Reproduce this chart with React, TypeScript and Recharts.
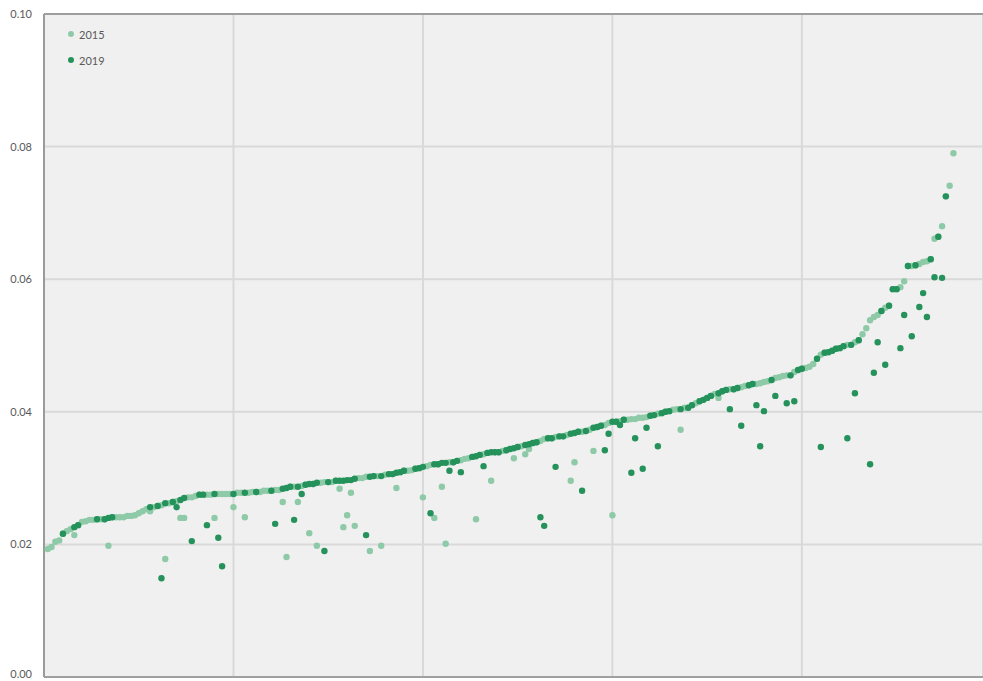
import React from 'react';
import { ScatterChart, Scatter, XAxis, YAxis, CartesianGrid, Legend, ReferenceLine } from 'recharts';

const seriesNames = ['2015', '2019'];
const seriesColors = ['#8ecaa7', '#24925a'];
const xTicks = [0, 50, 100, 150, 200];
const yTicks = [0, 0.02, 0.04, 0.06, 0.08, 0.1];

// sorted envelope values, index 1..240
const curve = [
  0.0193, 0.0196, 0.0204, 0.0206, 0.0216, 0.0220, 0.0223, 0.0226, 0.0229, 0.0234,
  0.0235, 0.0237, 0.0237, 0.0238, 0.0238, 0.0238, 0.0240, 0.0241, 0.0241, 0.0241,
  0.0241, 0.0243, 0.0243, 0.0244, 0.0247, 0.0250, 0.0253, 0.0256, 0.0256, 0.0258,
  0.0259, 0.0262, 0.0262, 0.0264, 0.0265, 0.0267, 0.0270, 0.0271, 0.0271, 0.0273,
  0.0275, 0.0275, 0.0275, 0.0275, 0.0276, 0.0276, 0.0276, 0.0276, 0.0276, 0.0276,
  0.0278, 0.0278, 0.0278, 0.0278, 0.0279, 0.0279, 0.0279, 0.0281, 0.0281, 0.0281,
  0.0282, 0.0282, 0.0284, 0.0285, 0.0287, 0.0287, 0.0287, 0.0288, 0.0290, 0.0291,
  0.0291, 0.0293, 0.0293, 0.0294, 0.0294, 0.0294, 0.0296, 0.0296, 0.0296, 0.0297,
  0.0297, 0.0299, 0.0300, 0.0300, 0.0302, 0.0302, 0.0303, 0.0303, 0.0303, 0.0305,
  0.0306, 0.0306, 0.0308, 0.0309, 0.0311, 0.0311, 0.0312, 0.0314, 0.0315, 0.0317,
  0.0318, 0.0320, 0.0321, 0.0321, 0.0323, 0.0323, 0.0324, 0.0324, 0.0326, 0.0327,
  0.0329, 0.0330, 0.0332, 0.0333, 0.0335, 0.0336, 0.0338, 0.0339, 0.0339, 0.0339,
  0.0341, 0.0342, 0.0344, 0.0345, 0.0347, 0.0348, 0.0350, 0.0351, 0.0353, 0.0354,
  0.0356, 0.0359, 0.0360, 0.0360, 0.0362, 0.0363, 0.0363, 0.0365, 0.0367, 0.0368,
  0.0370, 0.0370, 0.0371, 0.0373, 0.0376, 0.0377, 0.0379, 0.0380, 0.0383, 0.0385,
  0.0385, 0.0386, 0.0388, 0.0388, 0.0389, 0.0389, 0.0391, 0.0391, 0.0392, 0.0394,
  0.0395, 0.0397, 0.0398, 0.0400, 0.0401, 0.0403, 0.0404, 0.0404, 0.0406, 0.0406,
  0.0410, 0.0413, 0.0416, 0.0418, 0.0421, 0.0424, 0.0427, 0.0428, 0.0431, 0.0433,
  0.0434, 0.0434, 0.0436, 0.0437, 0.0439, 0.0440, 0.0442, 0.0442, 0.0443, 0.0445,
  0.0446, 0.0448, 0.0451, 0.0452, 0.0454, 0.0455, 0.0455, 0.0460, 0.0463, 0.0465,
  0.0466, 0.0468, 0.0472, 0.0480, 0.0486, 0.0489, 0.0490, 0.0492, 0.0495, 0.0496,
  0.0499, 0.0501, 0.0501, 0.0505, 0.0508, 0.0517, 0.0526, 0.0538, 0.0543, 0.0546,
  0.0552, 0.0557, 0.0560, 0.0585, 0.0585, 0.0588, 0.0597, 0.0620, 0.0620, 0.0621,
  0.0623, 0.0626, 0.0627, 0.0630, 0.0661, 0.0664, 0.0680, 0.0725, 0.0741, 0.0790,
];

// indices where the 2019 value sits on the envelope
const onCurve2019 = [
  5, 8, 9, 14, 16, 17, 18, 28, 30, 32, 34, 36, 37, 41, 42, 45, 50, 53, 56, 60, 63, 64, 65, 67,
  69, 70, 71, 72, 75, 77, 78, 79, 80, 81, 82, 86, 87, 89, 91, 92, 93, 94, 95, 98, 99, 100, 103,
  104, 105, 106, 108, 109, 113, 114, 115, 117, 118, 119, 120, 122, 123, 124, 125, 127, 128, 129,
  130, 133, 134, 136, 137, 139, 140, 141, 143, 145, 146, 147, 150, 151, 153, 160, 161, 163, 164,
  165, 168, 170, 171, 173, 174, 175, 176, 178, 179, 180, 182, 183, 186, 187, 192, 197, 199, 200,
  204, 206, 207, 208, 209, 210, 211, 213, 215, 221, 223, 224, 225, 228, 230, 234, 236, 238,
];

// 2015 values below the envelope: [index, value]
const outliers2015: [number, number][] = [
  [8, 0.0214], [17, 0.0198], [28, 0.0250], [32, 0.0178], [36, 0.0240], [37, 0.0240], [45, 0.0240],
  [50, 0.0256], [53, 0.0241], [63, 0.0264], [64, 0.0181], [67, 0.0264], [70, 0.0217], [72, 0.0198],
  [78, 0.0284], [79, 0.0226], [80, 0.0244], [81, 0.0278], [82, 0.0228], [86, 0.0190], [89, 0.0198],
  [93, 0.0285], [100, 0.0271], [103, 0.0240], [105, 0.0287], [106, 0.0201], [114, 0.0238],
  [118, 0.0296], [124, 0.0330], [127, 0.0336], [128, 0.0344], [139, 0.0296], [140, 0.0324],
  [145, 0.0341], [150, 0.0244], [168, 0.0373], [178, 0.0421],
];

// 2019 values below the envelope: [index, value]
const outliers2019: [number, number][] = [
  [31, 0.0149], [35, 0.0256], [39, 0.0205], [43, 0.0229], [46, 0.0210], [47, 0.0167], [61, 0.0231],
  [66, 0.0237], [68, 0.0276], [74, 0.0190], [85, 0.0214], [102, 0.0247], [107, 0.0311], [110, 0.0309],
  [116, 0.0318], [131, 0.0241], [132, 0.0228], [135, 0.0317], [142, 0.0281], [148, 0.0342],
  [149, 0.0367], [152, 0.0380], [155, 0.0308], [156, 0.0360], [158, 0.0314], [159, 0.0376],
  [162, 0.0348], [181, 0.0404], [184, 0.0379], [188, 0.0410], [189, 0.0348], [190, 0.0401],
  [193, 0.0424], [196, 0.0413], [198, 0.0416], [205, 0.0347], [212, 0.0360], [214, 0.0428],
  [218, 0.0321], [219, 0.0459], [220, 0.0505], [222, 0.0471], [226, 0.0496], [227, 0.0546],
  [229, 0.0514], [231, 0.0558], [232, 0.0579], [233, 0.0543], [235, 0.0603], [237, 0.0602],
];

const o15 = new Map<number, number>(outliers2015);
const data2015 = curve.map((v, k) => ({ x: k + 1, y: o15.has(k + 1) ? (o15.get(k + 1) as number) : v }));
const m19 = new Map<number, number>();
onCurve2019.forEach((i) => m19.set(i, curve[i - 1]));
outliers2019.forEach(([i, v]) => m19.set(i, v));
const data2019 = Array.from(m19.entries())
  .sort((a, b) => a[0] - b[0])
  .map(([x, y]) => ({ x, y }));

const FONT = 'Lato, "Open Sans", sans-serif';

const makeDot = (color: string) => (props: any) =>
  props.cx == null ? <g /> : <circle cx={props.cx} cy={props.cy} r={3.2} fill={color} />;

const YTick = (props: any) => {
  const { x, y, payload } = props;
  const v = payload.value as number;
  const shift = v === 0 ? -3 : 0;
  return (
    <text x={x} y={y + shift} dy="0.355em" textAnchor="end" fill="#595959" fontSize={11} fontFamily={FONT}>
      {v.toFixed(2)}
    </text>
  );
};

const LegendBox = () => (
  <div style={{ fontFamily: FONT, fontSize: 11, color: '#595959' }}>
    {seriesNames.map((n, k) => (
      <div key={n} style={{ display: 'flex', alignItems: 'center', height: 26 }}>
        <svg width={6} height={6} style={{ marginRight: 5 }}>
          <circle cx={3} cy={3} r={3} fill={seriesColors[k]} />
        </svg>
        <span>{n}</span>
      </div>
    ))}
  </div>
);

export default function App() {
  return (
    <div style={{ position: 'absolute', left: 0, top: 0, width: 983, height: 681, background: '#ffffff' }}>
      <ScatterChart width={983} height={681} margin={{ top: 14, right: 0, bottom: 4, left: 0 }}>
        <CartesianGrid fill="#f0f0f0" stroke="#d9d9d9" strokeWidth={2} />
        <XAxis type="number" dataKey="x" domain={[0, 247.8]} ticks={xTicks} hide />
        <YAxis
          type="number"
          dataKey="y"
          domain={[0, 0.1]}
          ticks={yTicks}
          interval={0}
          width={44}
          tick={<YTick />}
          tickLine={false}
          tickSize={6}
          tickMargin={6}
          axisLine={{ stroke: '#9a9a9a', strokeWidth: 2 }}
        />
        <ReferenceLine y={0.1} stroke="#8a8a8a" strokeWidth={1.5} />
        <ReferenceLine y={0} stroke="#a0a0a0" strokeWidth={2} />
        <Legend
          layout="horizontal"
          verticalAlign="middle"
          align="center"
          wrapperStyle={{ position: 'absolute', left: 68, top: 21, width: 'auto' }}
          content={() => <LegendBox />}
        />
        <Scatter name={seriesNames[0]} data={data2015} fill={seriesColors[0]} shape={makeDot(seriesColors[0])} isAnimationActive={false} />
        <Scatter name={seriesNames[1]} data={data2019} fill={seriesColors[1]} shape={makeDot(seriesColors[1])} isAnimationActive={false} />
      </ScatterChart>
    </div>
  );
}
